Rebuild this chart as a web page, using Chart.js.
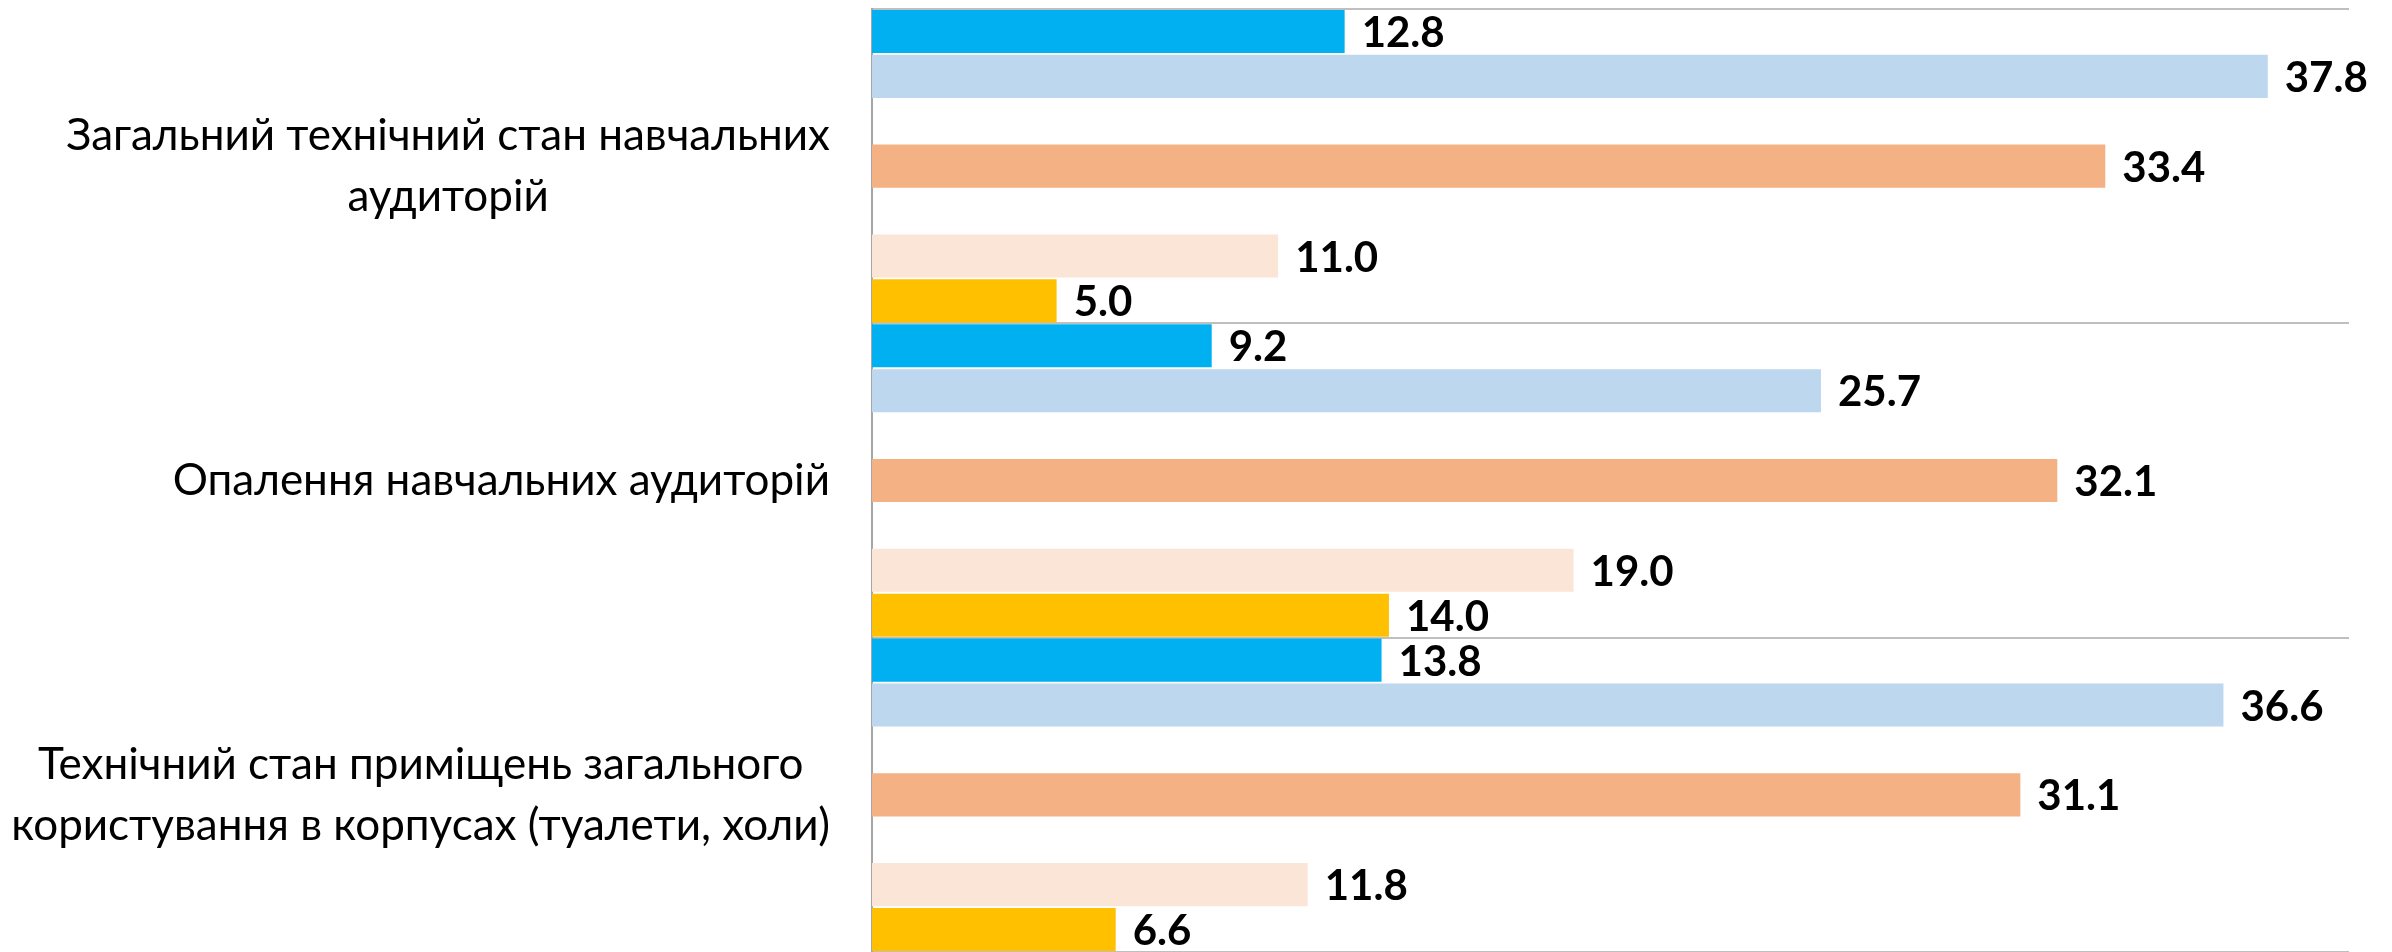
<!DOCTYPE html>
<html>
<head>
<meta charset="utf-8">
<script src="https://cdn.jsdelivr.net/npm/chart.js@4/dist/chart.umd.min.js"></script>
<style>
  html, body { margin: 0; padding: 0; background: #fff; }
  #wrap { width: 2392px; height: 952px; }
</style>
</head>
<body>
<div id="wrap"><canvas id="myChart"></canvas></div>
<script>
// categories (top to bottom)
var categories = [
    ['Загальний технічний стан навчальних', 'аудиторій'],
    ['Опалення навчальних аудиторій'],
    ['Технічний стан приміщень загального', 'користування в корпусах (туалети, холи)']
];

// series values, one list per bar slot (empty slots are kept as null)
var seriesA = [12.8, 9.2, 13.8];
var seriesB = [37.8, 25.7, 36.6];
var seriesGap1 = [null, null, null];
var seriesC = [33.4, 32.1, 31.1];
var seriesGap2 = [null, null, null];
var seriesD = [11.0, 19.0, 11.8];
var seriesE = [5.0, 14.0, 6.6];

var xMin = 0;
var xMax = 40;

var colors = ['#00B0F0', '#BDD7EE', '#ffffff', '#F4B183', '#ffffff', '#FBE5D6', '#FFC000'];
var allSeries = [seriesA, seriesB, seriesGap1, seriesC, seriesGap2, seriesD, seriesE];

// value labels at the end of each bar
var valueLabels = {
    id: 'valueLabels',
    afterDatasetsDraw: function (chart) {
        var ctx = chart.ctx;
        ctx.save();
        ctx.font = 'bold 42px Lato';
        ctx.fillStyle = '#000';
        ctx.textBaseline = 'middle';
        ctx.textAlign = 'left';
        chart.data.datasets.forEach(function (ds, i) {
            var meta = chart.getDatasetMeta(i);
            meta.data.forEach(function (bar, j) {
                var v = ds.data[j];
                if (v === null || v === undefined) return;
                ctx.fillText(v.toFixed(1), bar.x + 17, bar.y + 2);
            });
        });
        ctx.restore();
    }
};

// category labels: block right-aligned to the axis, lines centred in the block
var categoryLabels = {
    id: 'categoryLabels',
    afterDraw: function (chart) {
        var ctx = chart.ctx;
        var yScale = chart.scales.y;
        var lineH = 61;
        ctx.save();
        ctx.font = '44px Lato';
        ctx.fillStyle = '#000';
        ctx.textBaseline = 'middle';
        ctx.textAlign = 'center';
        chart.data.labels.forEach(function (lines, i) {
            var widest = 0;
            lines.forEach(function (t) { widest = Math.max(widest, ctx.measureText(t).width); });
            var cx = yScale.right - 42 - widest / 2;
            var cy = yScale.getPixelForTick(i);
            var y0 = cy - (lines.length - 1) * lineH / 2;
            lines.forEach(function (t, k) {
                ctx.fillText(t, cx, y0 + k * lineH);
            });
        });
        ctx.restore();
    }
};

document.addEventListener('DOMContentLoaded', function () {
    var ctx = document.getElementById('myChart').getContext('2d');
    var myChart = new Chart(ctx, {
        type: 'bar',
        data: {
            labels: categories,
            datasets: allSeries.map(function (s, i) {
                return {
                    data: s,
                    backgroundColor: colors[i],
                    categoryPercentage: 1.0,
                    barPercentage: 0.96
                };
            })
        },
        options: {
            indexAxis: 'y',
            responsive: true,
            maintainAspectRatio: false,
            animation: false,
            layout: { padding: { top: 9, right: 43, bottom: 0, left: 0 } },
            plugins: {
                legend: { display: false },
                tooltip: { enabled: false }
            },
            scales: {
                x: {
                    display: false,
                    min: xMin,
                    max: xMax
                },
                y: {
                    afterFit: function (scale) {
                        scale.width = 872;
                        scale.paddingTop = 0;
                        scale.paddingBottom = 0;
                    },
                    grid: {
                        offset: true,
                        color: '#BFBFBF',
                        lineWidth: 2,
                        drawTicks: false
                    },
                    border: { display: true, color: '#A6A6A6', width: 2 },
                    ticks: { display: false }
                }
            }
        },
        plugins: [valueLabels, categoryLabels]
    });
});
</script>
</body>
</html>
